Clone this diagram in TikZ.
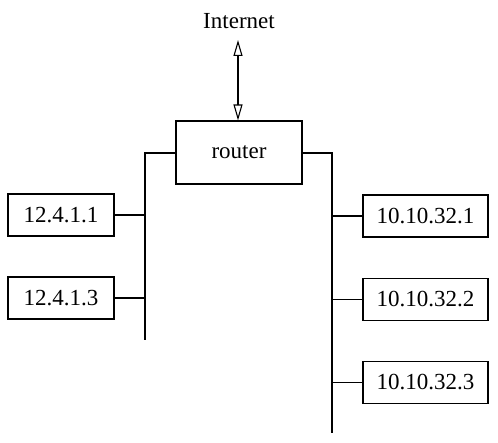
\documentclass[tikz,border=0pt]{standalone}
\usepackage{fontspec}
\setmainfont{Liberation Serif}
\usetikzlibrary{arrows.meta}
\newcommand{\lowered}[1]{\raisebox{-2pt}{#1}}
\begin{document}
\begin{tikzpicture}[x=1pt,y=-1pt,
  host/.style={draw,line width=1.1pt,minimum width=106pt,minimum height=42pt,inner sep=0pt,font=\fontsize{23}{25}\selectfont},
  rhost/.style={host,minimum width=125pt},
  lbl/.style={font=\fontsize{23}{25}\selectfont,inner sep=0pt},
  wire/.style={line width=1.1pt},
  link/.style={line width=1.1pt,{Triangle[open,length=16pt,width=9pt]}-{Triangle[open,length=16pt,width=9pt]}}]
\useasboundingbox (0,0) rectangle (498,443);
\node[lbl] (inet) at (239,21) {Internet};
\node[host,minimum width=126pt,minimum height=63pt] (router) at (239,152.5) {\lowered{router}};
\node[host] (a1) at (61,215) {\lowered{12.4.1.1}};
\node[host] (a3) at (61,298) {\lowered{12.4.1.3}};
\node[rhost] (b1) at (425.5,216) {\lowered{10.10.32.1}};
\node[rhost] (b2) at (425.5,299.5) {\lowered{10.10.32.2}};
\node[rhost] (b3) at (425.5,382.5) {\lowered{10.10.32.3}};
\coordinate (lt) at (145,153);
\coordinate (lb) at (145,340);
\coordinate (rt) at (332,153);
\coordinate (rb) at (332,433);
\coordinate (itop) at (238,40);
\draw[link] (itop) -- (router.north -| itop);
\draw[wire] (router.west |- lt) -- (lt) -- (lb);
\draw[wire] (router.east |- rt) -- (rt) -- (rb);
\draw[wire] (a1.east) -- (a1.east -| lt);
\draw[wire] (a3.east) -- (a3.east -| lt);
\draw[wire] (b1.west) -- (b1.west -| rt);
\draw[wire] (b2.west) -- (b2.west -| rt);
\draw[wire] (b3.west) -- (b3.west -| rt);
\end{tikzpicture}
\end{document}
